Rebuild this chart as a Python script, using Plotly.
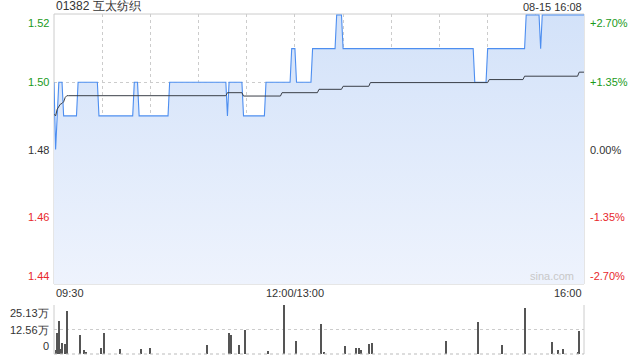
import plotly.graph_objects as go

# ---------------- data ----------------
prev_close = 1.48
price_ticks = [1.44, 1.46, 1.48, 1.50, 1.52]
pct_labels = ["-2.70%", "-1.35%", "0.00%", "+1.35%", "+2.70%"]
time_labels = ["09:30", "12:00/13:00", "16:00"]
time_label_pos = [0, 150, 330]
vol_tick_vals = [0, 125650, 251300]
vol_tick_text = ["0", "12.56万", "25.13万"]
title_text = "01382 互太纺织"
stamp_text = "08-15 16:08"

# price runs: (value, first minute, last minute)
price_runs = [
    (1.50, 0, 0), (1.48, 1, 1), (1.49, 2, 2), (1.50, 3, 5), (1.49, 6, 14),
    (1.50, 15, 27), (1.49, 28, 49), (1.50, 50, 52), (1.49, 53, 71),
    (1.50, 72, 107), (1.49, 108, 108), (1.50, 109, 117), (1.49, 118, 131),
    (1.50, 132, 147), (1.51, 148, 150), (1.50, 151, 160), (1.51, 161, 175),
    (1.52, 176, 179), (1.51, 180, 261), (1.50, 262, 269), (1.51, 270, 293),
    (1.52, 294, 302), (1.51, 303, 303), (1.52, 304, 330),
]
avg_runs = [
    (1.4905, 0, 0), (1.4900, 1, 1), (1.4920, 2, 2), (1.4930, 3, 3),
    (1.4935, 4, 4), (1.4937, 5, 5), (1.4942, 6, 6), (1.4955, 7, 7),
    (1.4960, 8, 107), (1.4969, 108, 117), (1.4959, 118, 141),
    (1.4969, 142, 164), (1.4979, 165, 179), (1.4988, 180, 196),
    (1.4999, 197, 270), (1.5008, 271, 292), (1.5018, 293, 326),
    (1.5030, 327, 330),
]
# volume spikes: minute -> shares
vol_minutes = [1, 2, 3, 4, 5, 7, 8, 16, 19, 20, 29, 31, 41, 54, 60, 95, 109, 110,
               115, 119, 133, 143, 151, 166, 168, 181, 188, 190, 191, 196, 198,
               244, 264, 279, 293, 310, 314, 317, 326, 327]
vol_values = [18000, 108000, 167000, 28000, 57000, 52000, 222000, 98000, 18000,
              8000, 33000, 110000, 24000, 24000, 33000, 47000, 110000, 98000,
              48000, 125000, 17000, 251300, 68000, 155000, 8000, 39000, 29000,
              29000, 22000, 49000, 56000, 69000, 166000, 47000, 238000, 60000,
              18000, 26000, 8000, 120000]


def expand(runs):
    out = []
    for v, a, b in runs:
        out += [v] * (b - a + 1)
    return out


price = expand(price_runs)
avg = expand(avg_runs)
minutes = list(range(len(price)))
y_min, y_max = min(price_ticks), max(price_ticks)
y_top = y_max + 0.0003  # a hair of headroom so the 1.52 line stays visible

GREEN = "#1a9a1a"
RED = "#e8282c"
DARK = "#333333"
GRID = "#cccccc"
FONT = "Liberation Sans, Arial, sans-serif"

fig = go.Figure()

# invisible floor for the area fill
fig.add_trace(go.Scatter(
    x=[minutes[0], minutes[-1]], y=[y_min, y_min], mode="lines",
    line=dict(width=0, color="rgba(0,0,0,0)"),
    xaxis="x", yaxis="y", hoverinfo="skip", showlegend=False,
))
fig.add_trace(go.Scatter(
    x=minutes, y=price, mode="lines",
    line=dict(color="#4d8ef0", width=1.1),
    fill="tonexty",
    fillgradient=dict(type="vertical", start=y_min, stop=y_max,
                      colorscale=[[0, "#eef3fd"], [1, "#d3e2f9"]]),
    xaxis="x", yaxis="y", hoverinfo="skip", showlegend=False,
))
fig.add_trace(go.Scatter(
    x=minutes, y=avg, mode="lines",
    line=dict(color="#3a3f48", width=1),
    xaxis="x", yaxis="y", hoverinfo="skip", showlegend=False,
))
fig.add_trace(go.Bar(
    x=vol_minutes, y=vol_values, width=0.7,
    marker=dict(color="#555555", line=dict(width=0)),
    xaxis="x2", yaxis="y2", hoverinfo="skip", showlegend=False,
))

price_dom = [0.2059, 1.0]
vol_dom = [0.0, 0.1441]

fig.update_layout(
    width=640, height=360,
    margin=dict(l=54, r=56, t=14, b=6),
    paper_bgcolor="white", plot_bgcolor="rgba(0,0,0,0)",
    font=dict(family=FONT, size=11, color=DARK),
    bargap=0,
    xaxis=dict(domain=[0, 1], range=[0, 330], tickvals=list(range(30, 330, 30)),
               showticklabels=False, showgrid=True, gridcolor=GRID,
               griddash="dot", gridwidth=1, zeroline=False, showline=False,
               anchor="y"),
    yaxis=dict(domain=price_dom, range=[y_min, y_top],
               tickvals=[1.46, 1.48, 1.50], showticklabels=False,
               showgrid=True, gridcolor=GRID, griddash="dot", zeroline=False,
               showline=False),
    xaxis2=dict(domain=[0, 1], range=[0, 330], showticklabels=False,
                showgrid=False, zeroline=False, anchor="y2"),
    yaxis2=dict(domain=vol_dom, range=[0, 251300], tickvals=[125650, 251300],
                showticklabels=False, showgrid=True, gridcolor=GRID,
                griddash="dot", zeroline=False, showline=False),
)

# borders
shapes = [
    dict(type="rect", xref="paper", yref="paper", x0=0, x1=1,
         y0=price_dom[0], y1=price_dom[1], line=dict(color=GRID, width=1),
         layer="below"),
    dict(type="line", xref="paper", yref="paper", x0=0, x1=0,
         y0=vol_dom[0], y1=vol_dom[1], line=dict(color=GRID, width=1)),
    dict(type="line", xref="paper", yref="paper", x0=1, x1=1,
         y0=vol_dom[0], y1=vol_dom[1], line=dict(color=GRID, width=1)),
    dict(type="line", xref="paper", yref="paper", x0=0, x1=1,
         y0=vol_dom[0], y1=vol_dom[0], line=dict(color="#bbbbbb", width=1, dash="dot")),
]
fig.update_layout(shapes=shapes)

ann = []
for v, pl in zip(price_ticks, pct_labels):
    col = GREEN if v > prev_close + 1e-9 else (RED if v < prev_close - 1e-9 else DARK)
    if v == y_max:
        ya = "top"
    elif v == y_min:
        ya = "bottom"
    else:
        ya = "middle"
    ann.append(dict(x=0, xref="paper", y=v, yref="y", text=f"{v:.2f}",
                    xanchor="right", yanchor=ya, xshift=-3, showarrow=False,
                    font=dict(color=col, size=11)))
    ann.append(dict(x=1, xref="paper", y=v, yref="y", text=pl,
                    xanchor="left", yanchor=ya, xshift=4, showarrow=False,
                    font=dict(color=col, size=11)))

for t, p in zip(time_labels, time_label_pos):
    xa = "left" if p == 0 else ("right" if p == 330 else "center")
    ann.append(dict(x=p, xref="x", y=price_dom[0], yref="paper", text=t,
                    xanchor=xa, yanchor="top", yshift=-1, showarrow=False,
                    font=dict(color=DARK, size=11)))

for v, t in zip(vol_tick_vals, vol_tick_text):
    ya = "bottom" if v == 0 else ("top" if v == max(vol_tick_vals) else "middle")
    ann.append(dict(x=0, xref="paper", y=v, yref="y2", text=t,
                    xanchor="right", yanchor=ya, xshift=-3, showarrow=False,
                    font=dict(color=DARK, size=11)))

ann.append(dict(x=0, xref="paper", y=1, yref="paper", text=title_text,
                xanchor="left", yanchor="bottom", showarrow=False, yshift=-1,
                font=dict(color=DARK, size=12)))
ann.append(dict(x=1, xref="paper", y=1, yref="paper", text=stamp_text,
                xanchor="right", yanchor="bottom", showarrow=False, yshift=-1,
                font=dict(color=DARK, size=11)))
ann.append(dict(x=0.985, xref="paper", y=price_dom[0], yref="paper",
                text="sina.com", xanchor="right", yanchor="bottom",
                showarrow=False, yshift=0,
                font=dict(color="#c8c8c8", size=11)))
fig.update_layout(annotations=ann)

fig.write_html("out.html")
